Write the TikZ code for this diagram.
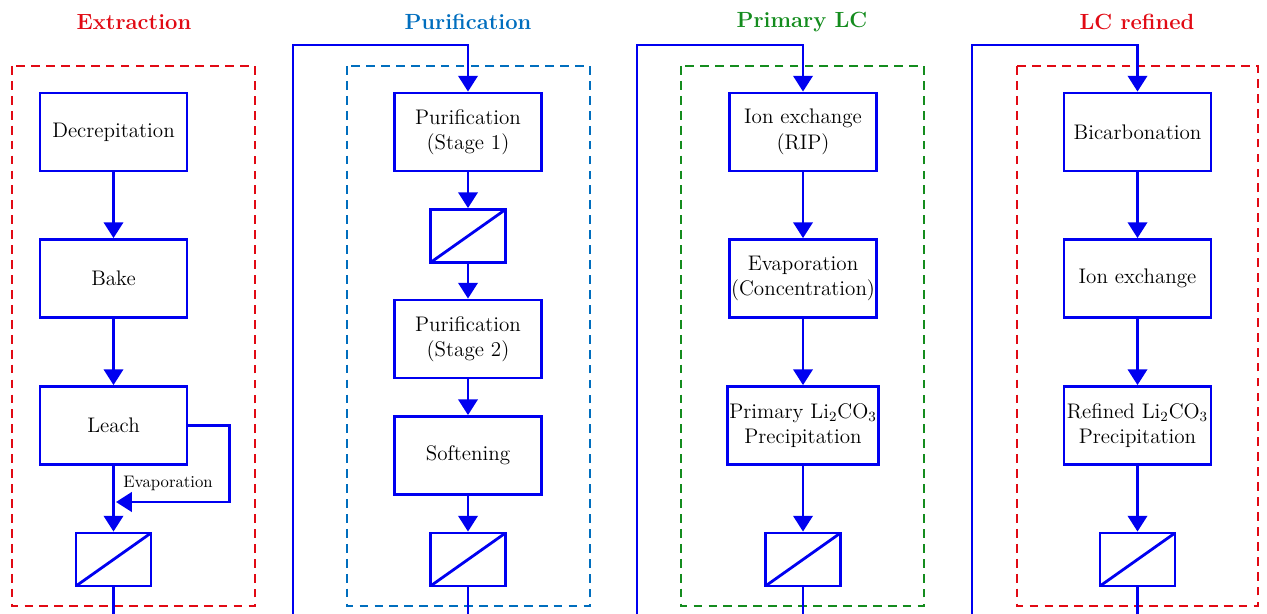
\documentclass[tikz,border=0pt]{standalone}
\usepackage{tikz}
\usepackage{xcolor}
\usetikzlibrary{arrows.meta}

\definecolor{flowblue}{RGB}{0,0,240}
\definecolor{extred}{RGB}{225,10,20}
\definecolor{purblue}{RGB}{0,110,190}
\definecolor{lcgreen}{RGB}{20,140,30}

\begin{document}
\begin{tikzpicture}[x=0.02cm, y=-0.02cm,
  unit/.style={draw=flowblue, line width=1.6pt, fill=white, minimum width=2.94cm, minimum height=1.56cm, align=center, inner sep=1pt, font=\fontsize{12}{14.5}\selectfont},
  filt/.style={draw=flowblue, line width=1.6pt, fill=white, minimum width=1.5cm, minimum height=1.06cm, inner sep=0pt,
    path picture={\draw[flowblue, line width=1.6pt] (path picture bounding box.south west) -- (path picture bounding box.north east);}},
  arr/.style={draw=flowblue, line width=1.6pt, -{Triangle[width=11pt,length=9pt]}},
  pipe/.style={draw=flowblue, line width=1.6pt},
  stage/.style={line width=1.5pt, dash pattern=on 5pt off 3.5pt},
  title/.style={font=\bfseries\fontsize{12.5}{14}\selectfont}]

  \useasboundingbox (0,0) rectangle (1267,614);

  % Extraction
  \node[title, text=extred] (t1) at (134,22) {Extraction};
  \draw[stage, extred] (12,66) rectangle (255,606);
  \node[unit] (decr) at (113.5,132) {Decrepitation};
  \node[unit] (bake) at (113.5,278.5) {Bake};
  \node[unit] (leach) at (113.5,425.5) {Leach};
  \node[filt] (f1) at (113.5,559.5) {};
  \coordinate (evin) at (116,502);
  \coordinate (out1) at (113.5,614);
  \draw[arr] (decr) -- (bake);
  \draw[arr] (bake) -- (leach);
  \draw[arr] (leach) -- (f1);
  \draw[arr] (leach.east) -- ++(41,0) |- (evin);
  \node[font=\fontsize{9.5}{11}\selectfont] (evap) at (168,483) {Evaporation};
  \draw[pipe] (f1) -- (out1);

  % Purification
  \node[title, text=purblue] (t2) at (468,22) {Purification};
  \draw[stage, purblue] (347,66) rectangle (590,606);
  \coordinate (in2) at (293,614);
  \coordinate (top2) at (293,45);
  \node[unit] (pur1) at (468,132) {Purification\\(Stage 1)};
  \node[filt] (f2a) at (468,236) {};
  \node[unit] (pur2) at (468,339) {Purification\\(Stage 2)};
  \node[unit] (soft) at (468,455.5) {Softening};
  \node[filt] (f2) at (468,559.5) {};
  \coordinate (out2) at (468,614);
  \draw[arr] (in2) -- (top2) -| (pur1.north);
  \draw[arr] (pur1) -- (f2a);
  \draw[arr] (f2a) -- (pur2);
  \draw[arr] (pur2) -- (soft);
  \draw[arr] (soft) -- (f2);
  \draw[pipe] (f2) -- (out2);

  % Primary LC
  \node[title, text=lcgreen] (t3) at (802,22) {Primary LC};
  \draw[stage, lcgreen] (681,66) rectangle (924,606);
  \coordinate (in3) at (637,614);
  \coordinate (top3) at (637,45);
  \node[unit] (rip) at (803,132) {Ion exchange\\(RIP)};
  \node[unit] (conc) at (803,278.5) {Evaporation\\(Concentration)};
  \node[unit] (prim) at (803,425.5) {Primary Li$_2$CO$_3$\\Precipitation};
  \node[filt] (f3) at (803,559.5) {};
  \coordinate (out3) at (803,614);
  \draw[arr] (in3) -- (top3) -| (rip.north);
  \draw[arr] (rip) -- (conc);
  \draw[arr] (conc) -- (prim);
  \draw[arr] (prim) -- (f3);
  \draw[pipe] (f3) -- (out3);

  % LC refined
  \node[title, text=extred] (t4) at (1137,22) {LC refined};
  \draw[stage, extred] (1017,66) rectangle (1258,606);
  \coordinate (in4) at (972,614);
  \coordinate (top4) at (972,45);
  \node[unit] (bicarb) at (1137.5,132) {Bicarbonation};
  \node[unit] (ionx) at (1137.5,278.5) {Ion exchange};
  \node[unit] (refd) at (1137.5,425.5) {Refined Li$_2$CO$_3$\\Precipitation};
  \node[filt] (f4) at (1137.5,559.5) {};
  \coordinate (out4) at (1137.5,614);
  \draw[arr] (in4) -- (top4) -| (bicarb.north);
  \draw[arr] (bicarb) -- (ionx);
  \draw[arr] (ionx) -- (refd);
  \draw[arr] (refd) -- (f4);
  \draw[pipe] (f4) -- (out4);

\end{tikzpicture}
\end{document}
